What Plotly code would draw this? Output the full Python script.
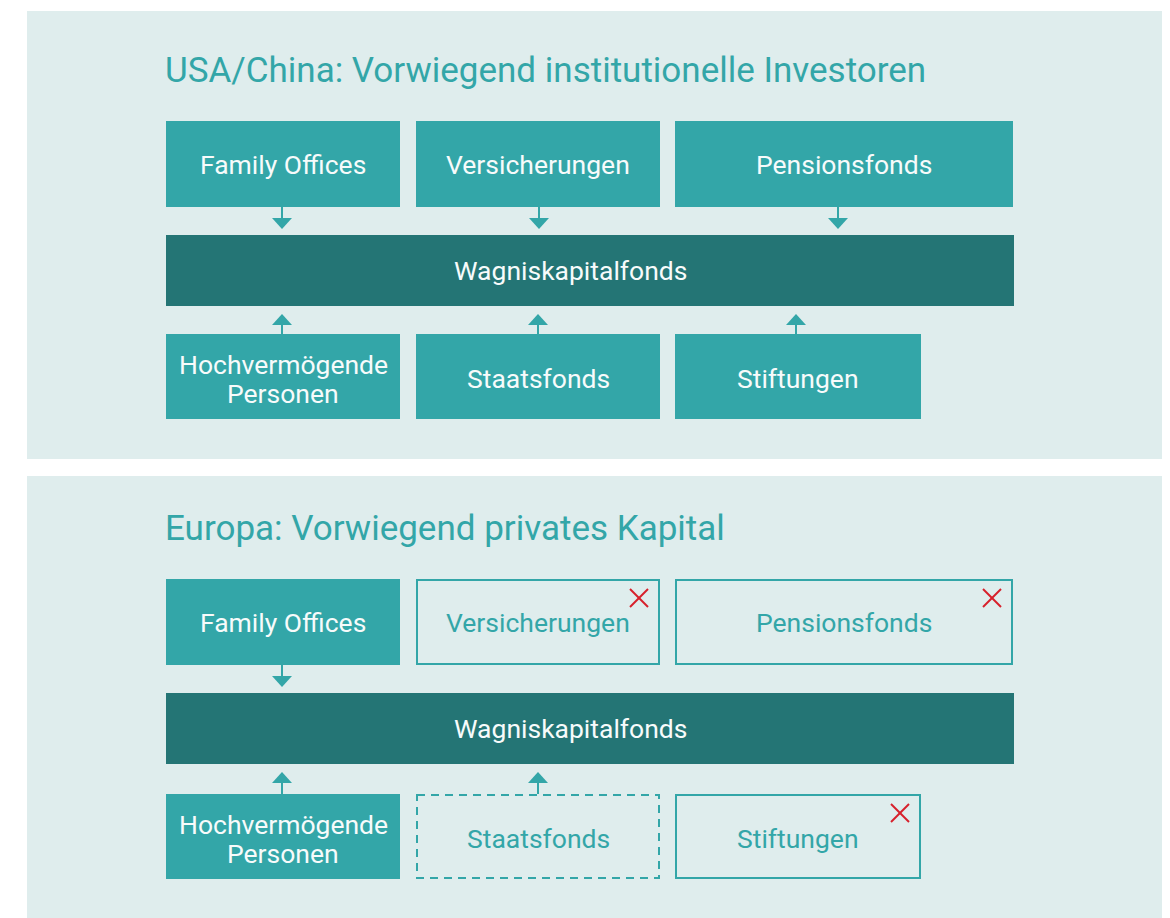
import plotly.graph_objects as go

# ---- Inhalte ----
panel_titles = [
    "USA/China: Vorwiegend institutionelle Investoren",
    "Europa: Vorwiegend privates Kapital",
]
hub_label = "Wagniskapitalfonds"
top_labels = ["Family Offices", "Versicherungen", "Pensionsfonds"]
bottom_labels = ["Hochvermögende<br>Personen", "Staatsfonds", "Stiftungen"]

# Status je Quelle: "aktiv" = gefüllt + Pfeil, "fehlt" = Rahmen + Kreuz, "teilweise" = gestrichelt + Pfeil
top_status = [
    ["aktiv", "aktiv", "aktiv"],
    ["aktiv", "fehlt", "fehlt"],
]
bottom_status = [
    ["aktiv", "aktiv", "aktiv"],
    ["aktiv", "teilweise", "fehlt"],
]

# ---- Geometrie / Stil ----
W, H = 1170, 918
PAGE_MARGIN = 8  # body-Rand der HTML-Seite
COLORS = {
    "panel": "#dfeded",
    "teal": "#33a6a8",
    "dark": "#247575",
    "red": "#d7202b",
    "white": "#f7fbfb",
}
FONT = "Roboto, Noto Sans, sans-serif"
PANEL_Y = [(11, 459), (476, 930)]
PANEL_X = (27, 1162)
OFFSET = [0, 458]
BOT_OFFSET = [0, 460]
TOP_COLS = [(166, 400), (416, 660), (675, 1013)]
BOT_COLS = [(166, 400), (416, 660), (675, 921)]
TOP_ARROW_X = [282, 539, 838]
BOT_ARROW_X = [282, 538, 796]
TOP_ROW = (121, 207)
HUB_ROW = (235, 306)
BOT_ROW = (334, 419)
TITLE_Y = 70
TXT = 26.5
LINE_GAP = 29

shapes = []
annotations = []


def rect(x0, x1, y0, y1, fill=None, line=None, dash=None, width=2):
    shapes.append(dict(
        type="rect", xref="x", yref="y", x0=x0, x1=x1, y0=y0, y1=y1,
        fillcolor=fill or "rgba(0,0,0,0)",
        line=dict(color=line or "rgba(0,0,0,0)", width=width if line else 0,
                  dash=dash or "solid"),
        layer="below",
    ))


def label(x, y, text, color, size=TXT, anchor="center"):
    # mehrzeilige Texte mit engerem Zeilenabstand als Plotly-Standard
    lines = text.split("<br>")
    start = y - (len(lines) - 1) * LINE_GAP / 2
    for k, ln in enumerate(lines):
        annotations.append(dict(
            xref="x", yref="y", x=x, y=start + k * LINE_GAP, text=ln, showarrow=False,
            xanchor=anchor, yanchor="middle", align="center",
            font=dict(family=FONT, size=size, color=color),
        ))


def arrow(x, y_from, y_to):
    # Stiel + Dreieckspitze
    d = 1 if y_to > y_from else -1
    base = y_to - d * 11
    shapes.append(dict(type="line", xref="x", yref="y", x0=x, x1=x,
                       y0=y_from, y1=base, line=dict(color=COLORS["teal"], width=2)))
    shapes.append(dict(type="path", xref="x", yref="y",
                       path=f"M {x-10} {base} L {x+10} {base} L {x} {y_to} Z",
                       fillcolor=COLORS["teal"], line=dict(width=0)))


def cross(cx, cy, r=9):
    for sx in (-1, 1):
        shapes.append(dict(type="line", xref="x", yref="y",
                           x0=cx - r, x1=cx + r, y0=cy - sx * r, y1=cy + sx * r,
                           line=dict(color=COLORS["red"], width=2)))


def source_box(cols, row, text, status, text_dy=0):
    x0, x1 = cols
    y0, y1 = row
    cx, cy = (x0 + x1) / 2, (y0 + y1) / 2 + text_dy
    if status == "aktiv":
        rect(x0, x1, y0, y1, fill=COLORS["teal"])
        label(cx, cy, text, COLORS["white"])
    elif status == "teilweise":
        rect(x0 + 1, x1 - 1, y0 + 1, y1 - 1, line=COLORS["teal"], dash="8px,6px")
        label(cx, cy, text, COLORS["teal"])
    else:
        rect(x0 + 1, x1 - 1, y0 + 1, y1 - 1, line=COLORS["teal"])
        label(cx, cy, text, COLORS["teal"])
        cross(x1 - 21, y0 + 19)


for p in range(2):
    off = OFFSET[p]
    boff = BOT_OFFSET[p]
    rect(PANEL_X[0], PANEL_X[1], PANEL_Y[p][0], PANEL_Y[p][1], fill=COLORS["panel"])
    label(163, TITLE_Y + off, panel_titles[p], COLORS["teal"], size=35, anchor="left")

    # Zentrale Box
    rect(166, 1014, HUB_ROW[0] + off, HUB_ROW[1] + off, fill=COLORS["dark"])
    label(570, (HUB_ROW[0] + HUB_ROW[1]) / 2 + off, hub_label, COLORS["white"])

    for i, txt in enumerate(top_labels):
        st = top_status[p][i]
        source_box(TOP_COLS[i], (TOP_ROW[0] + off, TOP_ROW[1] + off), txt, st)
        if st != "fehlt":
            arrow(TOP_ARROW_X[i], TOP_ROW[1] + off, HUB_ROW[0] - 6 + off)

    for i, txt in enumerate(bottom_labels):
        st = bottom_status[p][i]
        source_box(BOT_COLS[i], (BOT_ROW[0] + boff, BOT_ROW[1] + boff), txt, st, text_dy=2)
        if st != "fehlt":
            arrow(BOT_ARROW_X[i], BOT_ROW[0] + boff, HUB_ROW[1] + 8 + off)

fig = go.Figure()
fig.update_layout(
    width=W - PAGE_MARGIN, height=H - PAGE_MARGIN,
    margin=dict(l=0, r=0, t=0, b=0),
    paper_bgcolor="white", plot_bgcolor="white",
    xaxis=dict(range=[PAGE_MARGIN, W], visible=False, fixedrange=True),
    yaxis=dict(range=[H, PAGE_MARGIN], visible=False, fixedrange=True),
    shapes=shapes, annotations=annotations,
    showlegend=False,
)
fig.write_html("out.html")
